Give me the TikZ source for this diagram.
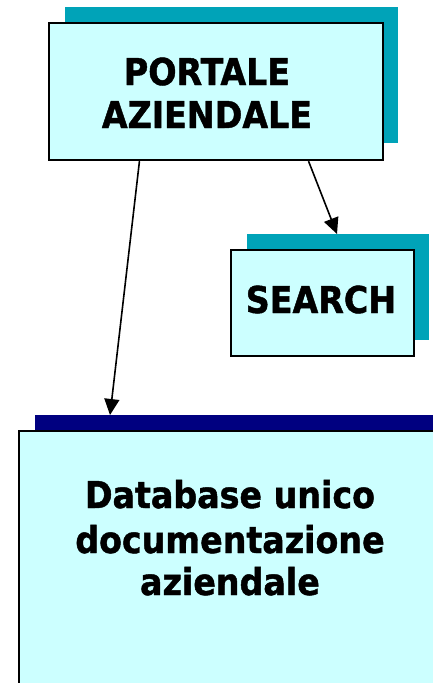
\documentclass[tikz,border=0pt]{standalone}
\usepackage{fontspec}
\setmainfont{DejaVu Sans Condensed}[BoldFeatures={FakeBold=1.2}]
\usetikzlibrary{arrows.meta,calc}
\definecolor{boxfill}{RGB}{204,255,255}
\definecolor{shadteal}{RGB}{0,163,184}
\definecolor{shadnavy}{RGB}{0,0,128}
\begin{document}
\begin{tikzpicture}[x=1pt,y=-1pt,
  box/.style={draw=black,line width=2.2pt,fill=boxfill,inner sep=0pt,anchor=north west},
  shadowbox/.style={fill=#1,draw=none,inner sep=0pt,anchor=north west},
  lbl/.style={anchor=base,inner sep=0pt,font=\fontsize{37}{44}\selectfont\bfseries},
  arr/.style={line width=1.6pt,-{Triangle[length=16pt,width=15pt]}}]
\useasboundingbox (0,0) rectangle (433,683);
\clip (0,0) rectangle (433,683);
\fill[white] (0,0) rectangle (433,683);
% PORTALE
\node[shadowbox=shadteal,minimum width=333pt,minimum height=136pt] (portsh) at (65,7) {};
\node[box,minimum width=334pt,minimum height=137pt] (portale) at (48,22) {};
\node[lbl] (p1) at (207,85) {PORTALE};
\node[lbl] (p2) at (207,128) {AZIENDALE};
% SEARCH
\node[shadowbox=shadteal,minimum width=182pt,minimum height=106pt] (searchsh) at (247,234) {};
\node[box,minimum width=183pt,minimum height=106pt] (search) at (230,249) {};
\node[lbl] (s1) at (321,313) {SEARCH};
% DATABASE
\node[shadowbox=shadnavy,minimum width=440pt,minimum height=300pt] (dbsh) at (35,415) {};
\node[box,minimum width=440pt,minimum height=300pt] (db) at (18,430) {};
\node[lbl] (d1) at (230,508) {Database unico};
\node[lbl] (d2) at (230,553) {documentazione};
\node[lbl] (d3) at (230,595) {aziendale};
% arrows
\draw[arr] ($(portale.south west)!0.272!(portale.south east)$) -- ($(dbsh.north west)+(75,0)$);
\draw[arr] ($(portale.south west)!0.775!(portale.south east)$) -- ($(searchsh.north west)+(90,0)$);
\end{tikzpicture}
\end{document}
